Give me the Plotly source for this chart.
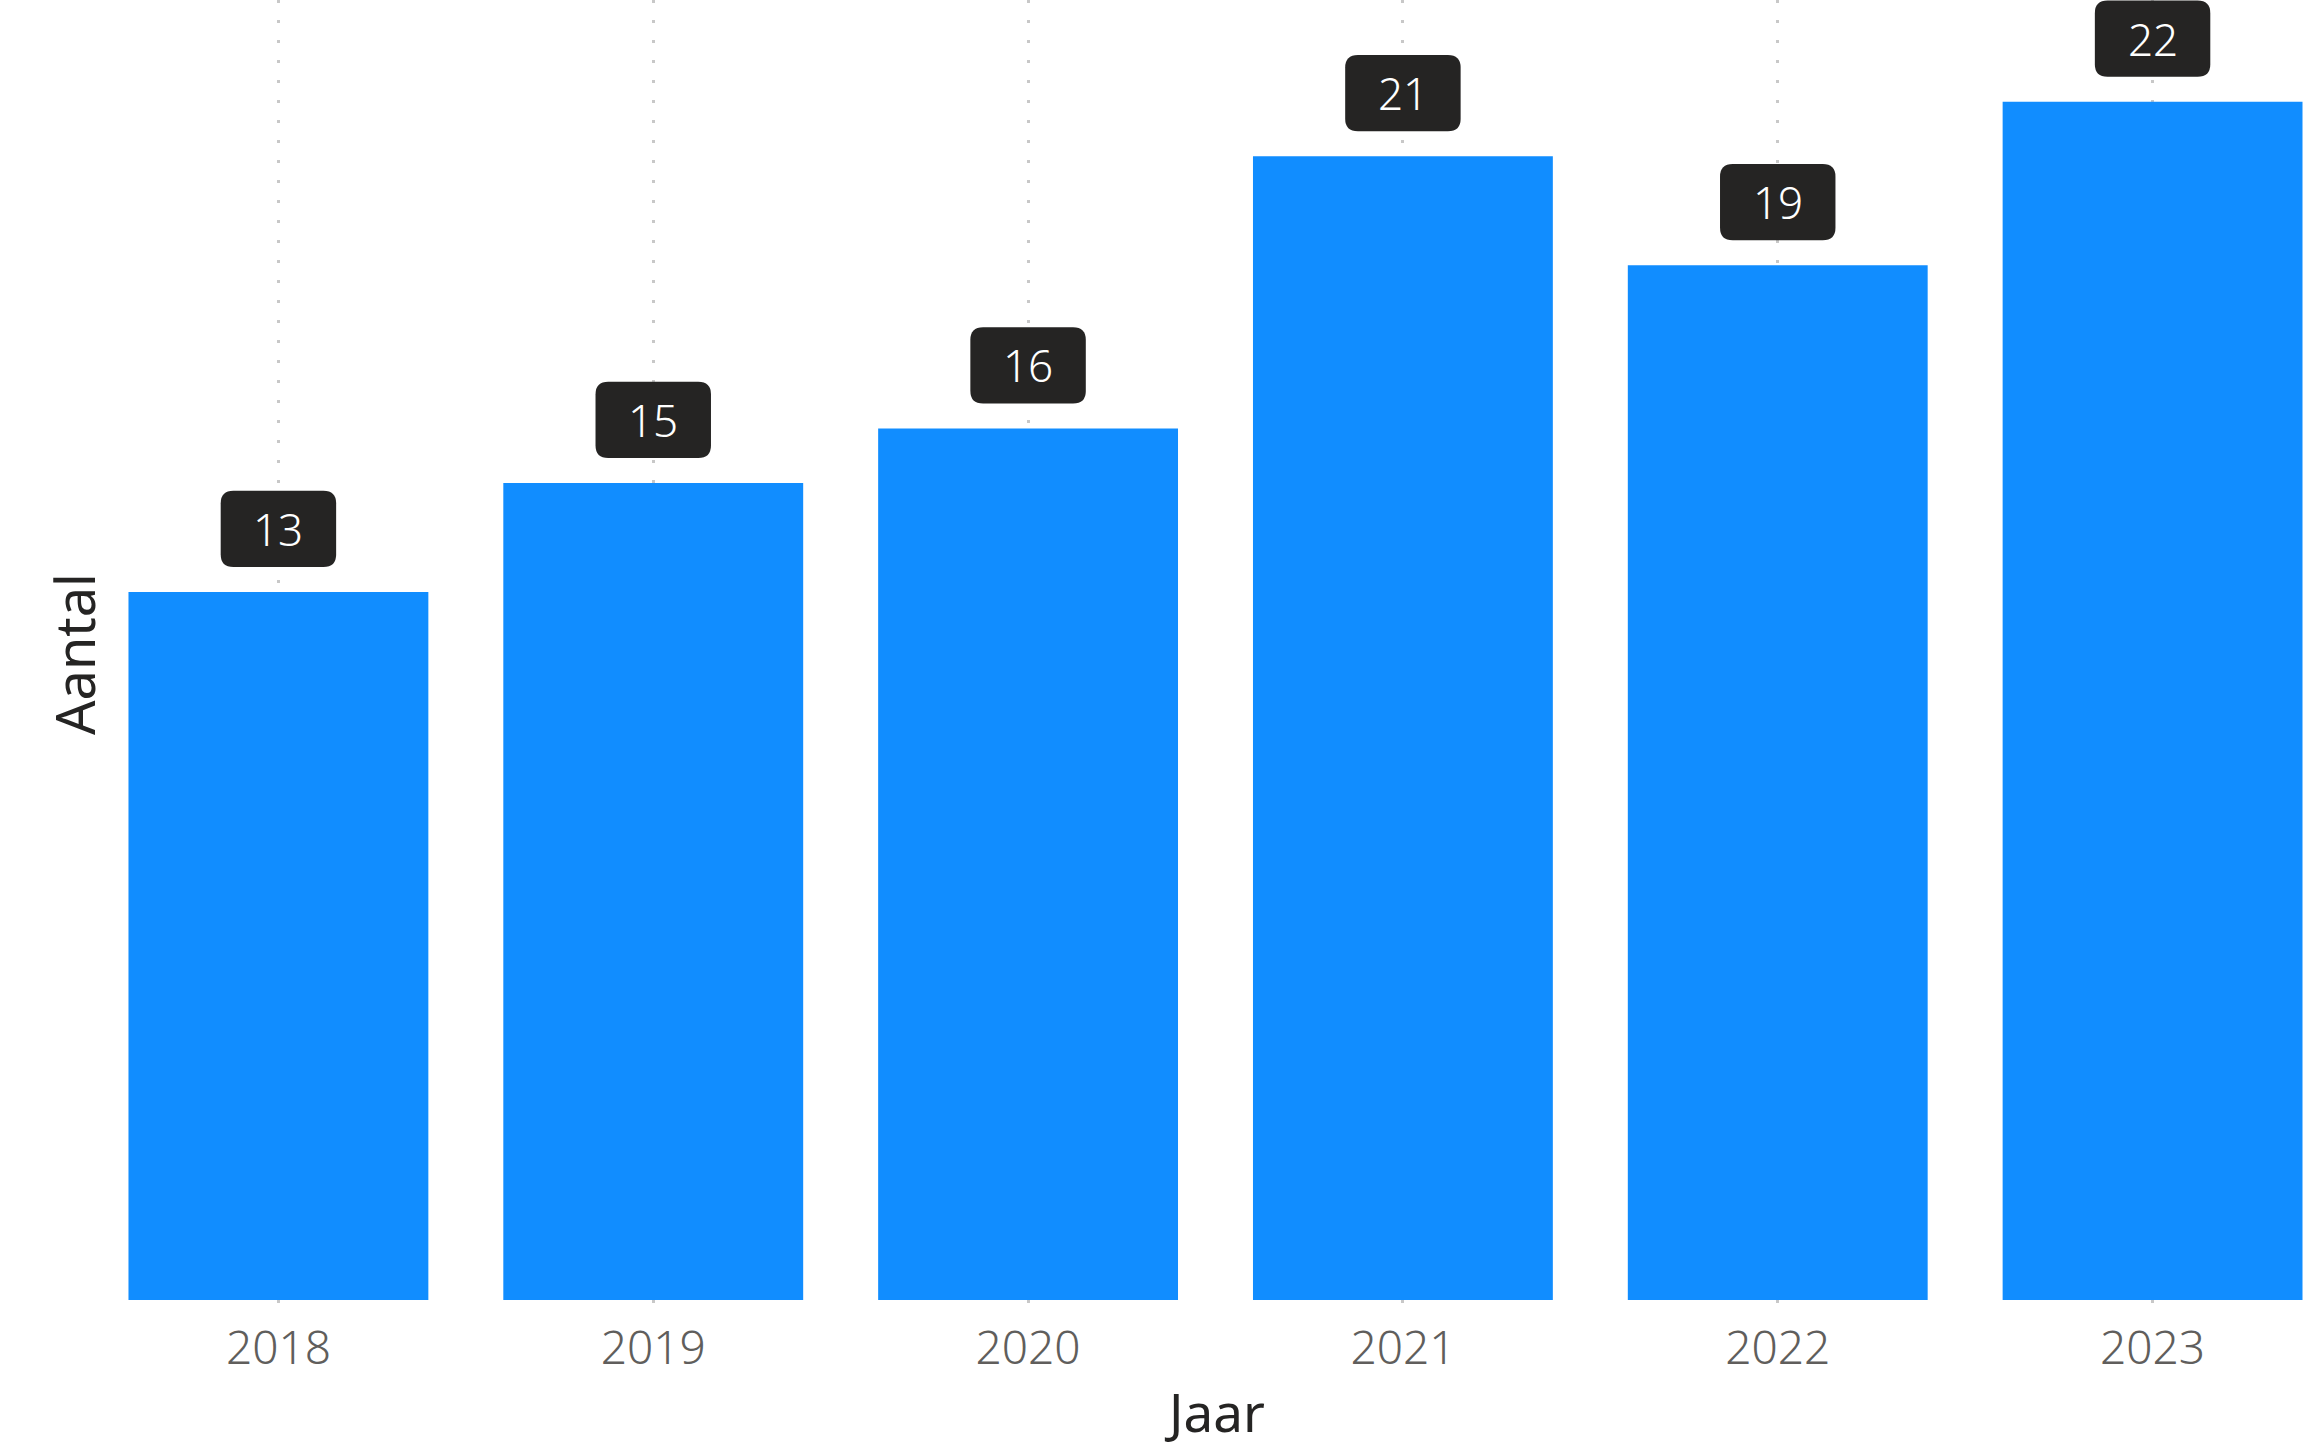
import plotly.graph_objects as go

years = [2018, 2019, 2020, 2021, 2022, 2023]
aantal = [13, 15, 16, 21, 19, 22]
year_labels = [str(y) for y in years]

BAR_COLOR = '#118DFF'
BOX_COLOR = '#252423'
FONT = 'Noto Sans'

fig = go.Figure()
fig.add_trace(go.Bar(x=years, y=aantal, marker_color=BAR_COLOR,
                     marker_line_width=0, width=0.8, hoverinfo='x+y'))

# rounded label boxes above the bars (data units)
hw, hh = 0.154, 0.70      # half width / half height
rx, ry = 0.034, 0.23      # corner radius
lift = 1.16               # box centre above bar top
shapes = []
annotations = []
for yr, v in zip(years, aantal):
    cx, cy = yr, v + lift
    x0, x1, y0, y1 = cx - hw, cx + hw, cy - hh, cy + hh
    path = (f'M {x0 + rx},{y0} L {x1 - rx},{y0} Q {x1},{y0} {x1},{y0 + ry} '
            f'L {x1},{y1 - ry} Q {x1},{y1} {x1 - rx},{y1} '
            f'L {x0 + rx},{y1} Q {x0},{y1} {x0},{y1 - ry} '
            f'L {x0},{y0 + ry} Q {x0},{y0} {x0 + rx},{y0} Z')
    shapes.append(dict(type='path', path=path, xref='x', yref='y',
                       fillcolor=BOX_COLOR, line_width=0, layer='above'))
    annotations.append(dict(x=cx, y=cy, xref='x', yref='y', text=str(v),
                            showarrow=False,
                            font=dict(family=FONT, size=44, color='white',
                                      weight=300)))

# axis titles as annotations (they sit partly over the plot area)
annotations.append(dict(x=0.5065, y=-0.0795, xref='paper', yref='paper',
                        text='Jaar', showarrow=False, yanchor='middle',
                        font=dict(family=FONT, size=53, color='#252423')))
annotations.append(dict(x=-0.0077, y=0.5, xref='paper', yref='paper',
                        text='Aantal', showarrow=False, textangle=-90,
                        xanchor='center', yanchor='middle',
                        font=dict(family=FONT, size=54, color='#252423')))

fig.update_layout(
    width=2310, height=1453,
    margin=dict(l=91, r=0, t=0, b=145, autoexpand=False),
    plot_bgcolor='white', paper_bgcolor='white',
    showlegend=False,
    shapes=shapes,
    annotations=annotations,
    font=dict(family=FONT),
)
fig.update_xaxes(range=[2017.5, 2023.42], tickvals=years, ticktext=year_labels,
                 showgrid=True, gridcolor='#C8C8C8', griddash='3px,17px', gridwidth=3,
                 zeroline=False, showline=False, ticks='', ticklabelstandoff=9,
                 automargin=False,
                 tickfont=dict(family=FONT, size=46, color='#605E5C', weight=300))
fig.update_yaxes(range=[-0.147, 23.87], showgrid=False, zeroline=False,
                 showticklabels=False, showline=False, automargin=False)

fig.write_html('out.html', config={'displayModeBar': False},
               post_script="document.body.style.margin='0';")
